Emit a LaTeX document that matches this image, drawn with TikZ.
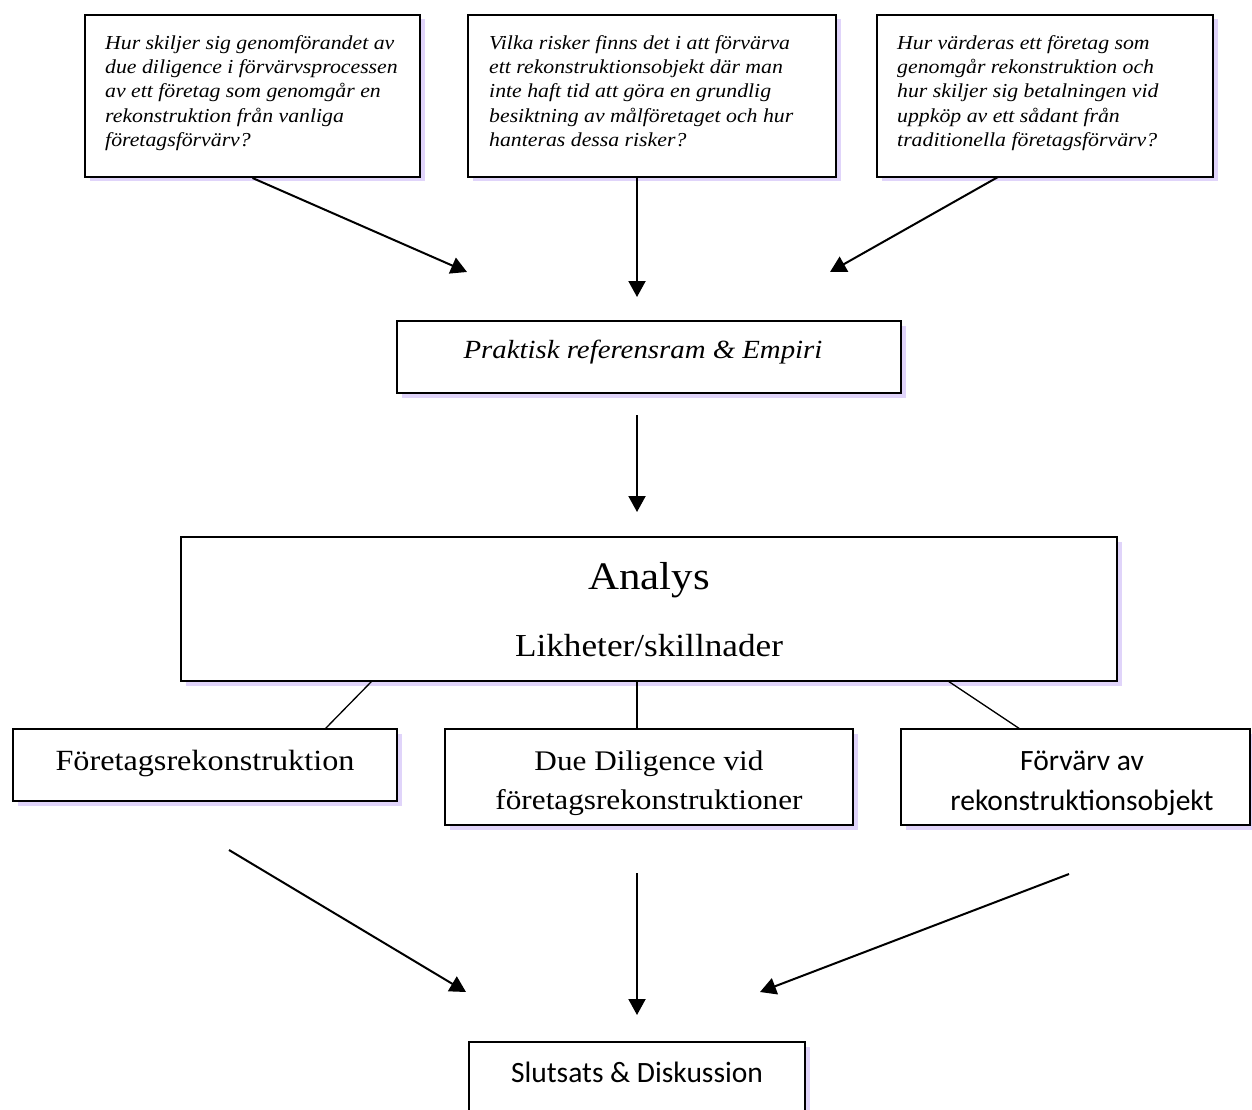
\documentclass[tikz,border=0pt]{standalone}
\usepackage{fontspec}
\setmainfont{Liberation Serif}[FakeStretch=1.1]
\newfontfamily\calib{Carlito}
\usetikzlibrary{arrows.meta,shadows}
\definecolor{shadowc}{RGB}{224,212,250}
\tikzset{
 box/.style={draw=black, line width=2pt, fill=white, inner sep=0pt,
   drop shadow={shadow xshift=4.5pt, shadow yshift=-4.5pt, fill=shadowc, opacity=1}},
 arr/.style={line width=2pt, -{Triangle[length=16pt,width=17pt]}},
 conn/.style={line width=1.3pt},
 qtext/.style={inner sep=0pt, anchor=north west, align=left, font=\fontsize{19.8}{24.4}\selectfont\itshape},
 mtext/.style={inner sep=0pt, anchor=base, align=center},
}
\begin{document}
\begin{tikzpicture}[x=1pt,y=-1pt]
\useasboundingbox (0,0) rectangle (1252,1110);
% boxes
\node[box, minimum width=335pt, minimum height=162pt] (q1) at (252.5,96) {};
\node[box, minimum width=368pt, minimum height=162pt] (q2) at (652,96) {};
\node[box, minimum width=336pt, minimum height=162pt] (q3) at (1045,96) {};
\node[box, minimum width=504pt, minimum height=72pt] (prak) at (649,357) {};
\node[box, minimum width=936pt, minimum height=144pt] (analys) at (649,609) {};
\node[box, minimum width=384pt, minimum height=72pt] (fr) at (205,765) {};
\node[box, minimum width=408pt, minimum height=96pt] (dd) at (649,777) {};
\node[box, minimum width=349pt, minimum height=96pt] (fv) at (1075.5,777) {};
\node[box, minimum width=336pt, minimum height=72pt] (slut) at (637,1078) {};
% texts
\node[qtext] (t1) at (105,35) {Hur skiljer sig genomförandet av\\due diligence i förvärvsprocessen\\av ett företag som genomgår en\\rekonstruktion från vanliga\\företagsförvärv?};
\node[qtext] (t2) at (489,35) {Vilka risker finns det i att förvärva\\ett rekonstruktionsobjekt där man\\inte haft tid att göra en grundlig\\besiktning av målföretaget och hur\\hanteras dessa risker?};
\node[qtext] (t3) at (897,35) {Hur värderas ett företag som\\genomgår rekonstruktion och\\hur skiljer sig betalningen vid\\uppköp av ett sådant från\\traditionella företagsförvärv?};
\node[mtext, font=\fontsize{26.2}{30}\selectfont\itshape] (tp) at (643,358) {Praktisk referensram \& Empiri};
\node[mtext, font=\fontsize{39}{44}\selectfont] (ta) at (649,589) {Analys};
\node[mtext, font=\fontsize{32}{36}\selectfont] (tl) at (649,656) {Likheter/skillnader};
\node[mtext, font=\fontsize{29.3}{34}\selectfont] (tf) at (205,770) {Företagsrekonstruktion};
\node[mtext, font=\fontsize{28.4}{39}\selectfont] (td) at (649,809) {Due Diligence vid\\företagsrekonstruktioner};
\node[mtext, font=\fontsize{29.5}{40}\selectfont\calib] (tv) at (1082,810) {Förvärv av\\rekonstruktionsobjekt};
\node[mtext, font=\fontsize{29.5}{34}\selectfont\calib] (ts) at (637,1082) {Slutsats \& Diskussion};
% connector coordinates
\coordinate (s2) at (637,177);
\coordinate (s3) at (998,177);
\coordinate (e1) at (467,272);
\coordinate (e2) at (637,297);
\coordinate (e3) at (830,272);
\coordinate (s4) at (637,415);
\coordinate (e4) at (637,512);
\coordinate (a1) at (372,681);
\coordinate (a2) at (637,681);
\coordinate (a3) at (948,681);
\coordinate (b1) at (325,729);
\coordinate (b2) at (637,729);
\coordinate (b3) at (1020,729);
\coordinate (s5) at (229,850);
\coordinate (s6) at (637,873);
\coordinate (s7) at (1069,874);
\coordinate (e5) at (466,992);
\coordinate (e6) at (637,1015);
\coordinate (e7) at (760,992);
% connectors
\draw[arr] (q1.south) -- (e1);
\draw[arr] (s2) -- (e2);
\draw[arr] (s3) -- (e3);
\draw[arr] (s4) -- (e4);
\draw[conn] (a1) -- (b1);
\draw[conn] (a2) -- (b2);
\draw[conn] (a3) -- (b3);
\draw[arr] (s5) -- (e5);
\draw[arr] (s6) -- (e6);
\draw[arr] (s7) -- (e7);
\end{tikzpicture}
\end{document}
